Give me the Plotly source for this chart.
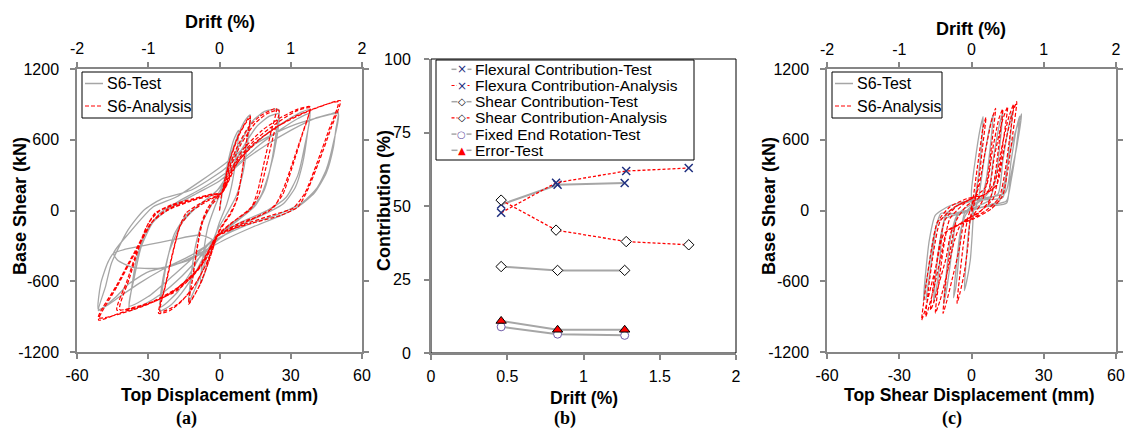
import plotly.graph_objects as go

W, H = 1126, 430

# ---------------- Panel (a): base shear vs top displacement ----------------
a_test_pts = [
    (0, 0), (2, 250), (4, 450), (6, 600), (8, 680), (7, 450), (5, 200), (3, 50), (0, -100), (-3, -300), (-6, -520),
    (-8, -620), (-7, -400), (-5, -150), (-2, 30), (1, 180),
    (4, 420), (8, 650), (11, 770), (13, 810), (12, 600), (10, 330), (7, 120), (3, -30), (-1, -170), (-5, -380),
    (-9, -600), (-12, -740), (-13, -780), (-12, -560), (-10, -290), (-7, -90), (-3, 60), (1, 200),
    (4, 380), (9, 580), (14, 760), (19, 840), (25, 855), (24, 680), (22, 420), (19, 180), (15, 40), (8, -80),
    (0, -200), (-5, -330), (-10, -520), (-16, -700), (-21, -810), (-25, -850), (-24, -660), (-22, -420),
    (-19, -200), (-14, -40), (-7, 70), (0, 190),
    (5, 360), (10, 540), (16, 720), (21, 800), (25, 820), (24, 600), (21, 330), (17, 110), (10, -40), (2, -160),
    (-6, -320), (-12, -520), (-18, -700), (-25, -820), (-24, -600), (-21, -340), (-16, -110), (-9, 40), (-1, 170),
    (6, 380), (13, 530), (20, 650), (28, 760), (34, 830), (38, 855), (37, 650), (35, 400), (32, 200), (27, 60),
    (18, -40), (8, -130), (0, -240), (-8, -390), (-16, -560), (-24, -700), (-32, -800), (-38, -850), (-37, -660),
    (-35, -420), (-31, -180), (-25, -20), (-17, 80), (-8, 180), (0, 280),
    (8, 400), (17, 560), (26, 690), (33, 780), (38, 820), (36, 560), (33, 300), (28, 110), (20, 0), (10, -90),
    (0, -200), (-10, -380), (-20, -560), (-30, -730), (-38, -810), (-36, -580), (-33, -310), (-28, -100),
    (-20, 30), (-10, 140), (0, 250),
    (10, 420), (20, 560), (30, 680), (40, 780), (47, 820), (50, 835), (49, 690), (48, 540), (45, 320), (40, 150),
    (33, 30), (25, -50), (14, -140), (2, -250), (-10, -380), (-20, -470), (-30, -520), (-38, -620), (-44, -740),
    (-51, -850), (-48, -646), (-45.5, -447), (-38.5, -165), (-32, 0), (-24.5, 97), (-11.8, 174), (1.6, 343),
    (10, 499), (20, 620), (32, 730), (42, 790), (50, 820),
    (48, 580), (45, 350), (41, 190), (35, 70), (25, -30), (12, -120), (0, -230), (-12, -380), (-24, -500),
    (-34, -620), (-42, -730), (-47, -800), (-51, -840), (-50, -620), (-47, -440), (-44.6, -362), (-40, -330),
    (-30, -290), (-20, -250), (-8, -208), (-3, -250), (-5, -330), (-14, -430), (-26, -490), (-37, -480),
    (-43, -420), (-44.6, -362), (-38, -190), (-28, 30), (-18, 117), (1.6, 386), (12, 560),
]
a_ana_pts = [
    (0, 0), (1, 150), (4, 400), (8, 630), (11, 740), (13, 790), (11.5, 600), (9.5, 330), (7.5, 100), (5, -20),
    (2, -110), (-1, -210), (-4, -400), (-8, -620), (-11, -730), (-13, -787), (-11.5, -590), (-9.5, -320),
    (-7.5, -100), (-5, 20), (-2, 100), (1, 150),
    (4, 410), (8, 640), (12, 780), (13, 800), (11.3, 580), (9.3, 300), (7, 80), (4, -40), (0, -160), (-1, -215),
    (-5, -460), (-9, -660), (-13, -795), (-11.3, -580), (-9.2, -300), (-7, -90), (-4, 30), (1, 150),
    (3, 300), (7, 520), (12, 700), (17, 800), (21, 845), (24, 867), (21.5, 650), (18.5, 380), (16, 160),
    (13.5, 30), (8, -60), (2, -160), (-1, -220), (-5, -430), (-10, -620), (-16, -770), (-21, -850),
    (-25.6, -872), (-23, -650), (-20, -380), (-17, -150), (-14, -20), (-8, 60), (-3, 110), (1, 150),
    (4, 340), (9, 560), (15, 740), (20, 820), (25, 850), (22.5, 620), (19.5, 360), (16.5, 130), (13, 10),
    (6, -90), (0, -190), (-1, -225), (-6, -470), (-12, -680), (-18, -800), (-25, -860), (-22.5, -620),
    (-19.5, -350), (-16.5, -130), (-12, -10), (-6, 70), (1, 150),
    (5, 350), (10, 520), (18, 680), (26, 790), (33, 860), (38.2, 880), (35, 660), (31, 420), (27, 190),
    (23, 30), (16, -50), (8, -110), (1, -190), (-1, -220), (-6, -420), (-14, -610), (-24, -740), (-34, -810),
    (-43.2, -844), (-39, -600), (-35, -360), (-31, -150), (-27, -20), (-20, 50), (-11, 100), (-3, 140), (1, 150),
    (6, 380), (14, 580), (24, 740), (32, 840), (38, 870), (34.5, 620), (30.5, 360), (26.5, 130), (21, 0),
    (13, -80), (4, -160), (-1, -220), (-8, -480), (-18, -680), (-30, -790), (-42, -840), (-38, -580),
    (-34, -320), (-30, -110), (-25, 0), (-15, 70), (-5, 130), (1, 150),
    (6, 360), (14, 560), (25, 720), (36, 830), (45, 900), (50.9, 931), (47, 700), (42, 420), (37, 170),
    (33, 30), (26, -40), (15, -100), (5, -160), (-1, -210), (-8, -470), (-18, -660), (-30, -790), (-42, -870),
    (-50.9, -929), (-43, -640), (-35, -340), (-27.7, -80), (-22, 10), (-14, 70), (-5, 125), (1, 150),
    (8, 420), (18, 620), (30, 780), (42, 880), (50, 920), (46, 680), (41, 400), (36, 150), (31, 20), (22, -40),
    (10, -120), (2, -190), (-1, -220), (-10, -520), (-22, -720), (-36, -840), (-51, -910), (-43.5, -640),
    (-36, -360), (-29, -110), (-22, 0), (-12, 80), (-3, 130), (1, 150), (5, 300),
]
a_test_disp = [p[0] for p in a_test_pts]
a_test_shear = [p[1] for p in a_test_pts]
a_ana_disp = [p[0] for p in a_ana_pts]
a_ana_shear = [p[1] for p in a_ana_pts]

# ---------------- Panel (c): base shear vs top shear displacement ----------------
c_test_pts = [
    (0, 0), (0, 174), (1.5, 420), (3.5, 683), (4.8, 796), (4, 520), (2.5, 240), (1, 60), (0.8, -20),
    (0.3, -200), (-0.5, -420), (-2, -600), (-3, -680), (-2.2, -420), (-1, -150), (0.5, -10), (2, 40),
    (3, 110), (5, 400), (7.5, 700), (9, 810), (7.8, 540), (6, 250), (3.5, 80), (-1, 20), (-3, -30),
    (-4.5, -200), (-5.5, -450), (-6.5, -650), (-7.5, -740), (-6.3, -470), (-4.8, -200), (-2.5, -40),
    (1, 40), (4, 90),
    (7, 150), (9, 430), (11.5, 720), (13, 830), (11.8, 560), (10, 270), (7.5, 90), (3, 40), (-3, -10),
    (-6, -50), (-7.5, -230), (-9, -480), (-10.5, -690), (-11.5, -790), (-10.3, -500), (-8.6, -220),
    (-6, -40), (-1, 40), (5, 90),
    (11, 140), (13, 420), (15.5, 720), (17, 840), (15.8, 560), (14, 270), (11.5, 80), (6, 40), (0, 0),
    (-7, -40), (-11, -70), (-12.5, -250), (-13.5, -500), (-14.8, -690), (-15.8, -780), (-14.6, -500),
    (-12.8, -220), (-10.5, -30), (-5, 50), (4, 90),
    (13, 110), (15, 400), (18, 650), (19.8, 760), (20.8, 820), (18.8, 540), (16, 260), (14.6, 63), (9, 40),
    (2, 20), (-6, -30), (-12.6, -23), (-15.5, -200), (-17.5, -450), (-19, -640), (-20, -770), (-19, -520),
    (-17.5, -250), (-15, -40), (-9, 40), (0, 90),
    (14, 150), (16.5, 430), (18.5, 680), (20, 800), (18.5, 520), (16.5, 260), (14.5, 80), (9, 50), (0, 10),
    (-10, -40), (-14, -100), (-16, -330), (-17.5, -560), (-19, -760),
]
c_ana_pts = [
    (0, 0), (1, 150), (3, 450), (4.8, 700), (6, 790), (4.6, 540), (3, 260), (1.2, 60), (-0.5, -60),
    (-1.5, -300), (-3, -530), (-4.8, -700), (-6, -787), (-4.8, -540), (-3.2, -260), (-1.5, -60), (0.5, 60),
    (3, 200), (5.5, 480), (8.3, 760), (10, 867), (8.6, 600), (6.8, 300), (4.5, 80), (1, -30), (-3, -100),
    (-5, -320), (-8, -580), (-10.3, -770), (-11.8, -872), (-10.6, -600), (-8.6, -310), (-6.2, -80), (-2, 40),
    (2, 90),
    (7, 170), (9.5, 460), (12.8, 760), (15, 880), (13.4, 620), (11.4, 320), (9, 100), (4, 0), (-2, -80),
    (-8, -160), (-10.5, -400), (-13.5, -620), (-15.5, -770), (-17, -844), (-15.5, -580), (-13.4, -300),
    (-11, -80), (-6, 40), (0, 100), (5, 130),
    (10.5, 220), (13.5, 520), (16.6, 800), (18.8, 923), (17.2, 660), (15.2, 360), (12.8, 120), (8, 10),
    (1, -70), (-5, -120), (-11.5, -200), (-14.5, -450), (-17.5, -700), (-19.5, -860), (-20.7, -929),
    (-19, -650), (-16.8, -350), (-14.2, -100), (-9, 30), (-2, 100), (6, 140),
    (10, 260), (12.8, 560), (15.6, 800), (17.5, 900), (16, 640), (14, 340), (11.5, 110), (6, 0), (-1, -80),
    (-10, -170), (-13, -420), (-16, -690), (-18, -840), (-19, -900), (-17.6, -620), (-15.6, -330), (-13, -90),
    (-7, 30), (0, 100),
    (6, 200), (8.6, 500), (11.4, 780), (13, 860), (11.6, 600), (9.8, 300), (7.6, 90), (3, -20), (-4, -100),
    (-7, -250), (-10, -520), (-13, -760), (-15, -870), (-13.5, -600), (-11.5, -300), (-9, -70), (-3, 60),
    (1, 120),
]
c_test_disp = [p[0] for p in c_test_pts]
c_test_shear = [p[1] for p in c_test_pts]
c_ana_disp = [p[0] for p in c_ana_pts]
c_ana_shear = [p[1] for p in c_ana_pts]

# ---------------- Panel (b): contributions vs drift ----------------
b_drift_test = [0.46, 0.83, 1.27]
b_drift_ana = [0.46, 0.82, 1.28, 1.69]
flex_test = [50.5, 57.2, 57.8]
flex_ana = [47.7, 57.9, 61.9, 62.9]
shear_test = [29.4, 28.1, 28.1]
shear_ana = [52.0, 41.8, 37.9, 36.8]
fixed_end_test = [8.9, 6.4, 6.0]
error_test = [10.9, 7.9, 7.9]
b_series_names = ["Flexural Contribution-Test", "Flexura Contribution-Analysis", "Shear Contribution-Test",
                  "Shear Contribution-Analysis", "Fixed End Rotation-Test", "Error-Test"]
hyst_series_names = ["S6-Test", "S6-Analysis"]

# ticks
disp_ticks = [-60, -30, 0, 30, 60]
disp_labels = ["-60", "-30", "0", "30", "60"]
shear_ticks = [-1200, -600, 0, 600, 1200]
shear_labels = ["-1200", "-600", "0", "600", "1200"]
drift_ticks = [-2, -1, 0, 1, 2]
drift_labels = ["-2", "-1", "0", "1", "2"]
b_x_ticks = [0, 0.5, 1, 1.5, 2]
b_x_labels = ["0", "0.5", "1", "1.5", "2"]
b_y_ticks = [0, 25, 50, 75, 100]

GRAY = "#A6A6A6"
AXC = "#868686"
RED = "#FF0000"
NAVY = "#1F2F7F"
PURPLE = "#6F5BA8"
FONT = "Liberation Sans"
TEST_DASH = "solid"
ANA_DASH = "4px,2px"

fig = go.Figure()

def hyst(xv, yv, name, color, dash, width, xa, ya):
    return go.Scatter(x=xv, y=yv, mode="lines", name=name, xaxis=xa, yaxis=ya, showlegend=False,
                      line=dict(color=color, width=width, dash=dash, shape="spline", smoothing=0.6),
                      hoverinfo="skip")

fig.add_trace(hyst(a_test_disp, a_test_shear, hyst_series_names[0], GRAY, TEST_DASH, 1.3, "x", "y"))
fig.add_trace(hyst(a_ana_disp, a_ana_shear, hyst_series_names[1], RED, ANA_DASH, 1.2, "x", "y"))
fig.add_trace(hyst(c_test_disp, c_test_shear, hyst_series_names[0], GRAY, TEST_DASH, 1.3, "x3", "y3"))
fig.add_trace(hyst(c_ana_disp, c_ana_shear, hyst_series_names[1], RED, ANA_DASH, 1.2, "x3", "y3"))

# empty helper traces so that the secondary (top) drift axes are drawn
for xa, ya in (("x4", "y"), ("x5", "y3")):
    fig.add_trace(go.Scatter(x=drift_ticks, y=[None] * len(drift_ticks), xaxis=xa, yaxis=ya,
                             mode="lines", showlegend=False, hoverinfo="skip"))

def contrib(xv, yv, name, lcolor, dash, lwidth, marker):
    return go.Scatter(x=xv, y=yv, mode="lines+markers", name=name, xaxis="x2", yaxis="y2",
                      showlegend=False, line=dict(color=lcolor, width=lwidth, dash=dash), marker=marker,
                      hoverinfo="skip")

fig.add_trace(contrib(b_drift_test, flex_test, b_series_names[0], GRAY, "solid", 2,
                      dict(symbol="x-thin-open", size=8, color=NAVY, line=dict(color=NAVY, width=1.5))))
fig.add_trace(contrib(b_drift_ana, flex_ana, b_series_names[1], RED, "3px,2px", 1.3,
                      dict(symbol="x-thin-open", size=8, color=NAVY, line=dict(color=NAVY, width=1.5))))
fig.add_trace(contrib(b_drift_test, shear_test, b_series_names[2], GRAY, "solid", 2,
                      dict(symbol="diamond", size=8, color="white", line=dict(color="black", width=1))))
fig.add_trace(contrib(b_drift_ana, shear_ana, b_series_names[3], RED, "3px,2px", 1.3,
                      dict(symbol="diamond", size=8, color="white", line=dict(color="black", width=1))))
fig.add_trace(contrib(b_drift_test, fixed_end_test, b_series_names[4], GRAY, "solid", 2,
                      dict(symbol="circle", size=8, color="white", line=dict(color=PURPLE, width=1))))
fig.add_trace(contrib(b_drift_test, error_test, b_series_names[5], GRAY, "solid", 2,
                      dict(symbol="triangle-up", size=9, color="#FF0000", line=dict(color="black", width=1))))

tickfont = dict(family=FONT, size=16, color="black")

def base_axis(**kw):
    d = dict(showline=True, linecolor=AXC, linewidth=1.5, ticks="outside", tickcolor=AXC, ticklen=5,
             tickwidth=1.5, showgrid=False, zeroline=False, tickfont=tickfont, ticklabelstandoff=3,
             fixedrange=True, automargin=False)
    d.update(kw)
    return d

ya_dom = [1 - 352 / H, 1 - 69 / H]
fig.update_layout(
    width=W, height=H, autosize=False, margin=dict(l=0, r=0, t=0, b=0, pad=0, autoexpand=False),
    paper_bgcolor="white", plot_bgcolor="white", showlegend=False,
    xaxis=base_axis(domain=[77 / W, 362 / W], range=[-60, 60], tickvals=disp_ticks, ticktext=disp_labels,
                    anchor="y"),
    yaxis=base_axis(domain=ya_dom, range=[-1200, 1200], tickvals=shear_ticks, ticktext=shear_labels,
                    anchor="x", mirror="ticks", ticklabelstandoff=8),
    xaxis4=base_axis(overlaying="x", side="top", anchor="y", range=[-2, 2], tickvals=drift_ticks,
                     ticktext=drift_labels, ticklabelstandoff=2),
    xaxis2=base_axis(domain=[431 / W, 736 / W], range=[0, 2], tickvals=b_x_ticks, ticktext=b_x_labels,
                     anchor="y2", linewidth=2),
    yaxis2=base_axis(domain=[1 - 353 / H, 1 - 59 / H], range=[0, 100], tickvals=b_y_ticks, anchor="x2",
                     linewidth=2, ticklabelstandoff=10),
    xaxis3=base_axis(domain=[827 / W, 1116 / W], range=[-60, 60], tickvals=disp_ticks, ticktext=disp_labels,
                     anchor="y3"),
    yaxis3=base_axis(domain=ya_dom, range=[-1200, 1200], tickvals=shear_ticks, ticktext=shear_labels,
                     anchor="x3", mirror="ticks", ticklabelstandoff=8),
    xaxis5=base_axis(overlaying="x3", side="top", anchor="y3", range=[-2, 2], tickvals=drift_ticks,
                     ticktext=drift_labels, ticklabelstandoff=1),
)

# black frame (top/right) for panel (b)
fig.add_shape(type="rect", xref="x2 domain", yref="y2 domain", x0=0, x1=1, y0=0, y1=1,
              line=dict(color="black", width=1), layer="below")

def ann(text, x, y, size=18, bold=True, angle=0, family=FONT, xanchor="center", yanchor="middle",
        color="black"):
    t = f"<b>{text}</b>" if bold else text
    fig.add_annotation(text=t, x=x / W, y=1 - y / H, xref="paper", yref="paper", showarrow=False,
                       textangle=angle, font=dict(family=family, size=size, color=color),
                       xanchor=xanchor, yanchor=yanchor, borderpad=0)

ann("Drift (%)", 219.5, 22)
ann("Top Displacement (mm)", 219.5, 395, size=17.5)
ann("Base Shear (kN)", 20, 206, angle=-90)
ann("(a)", 186, 430, size=18, family="Liberation Serif", yanchor="bottom")

ann("Contribution (%)", 384, 201, angle=-90)
ann("Drift (%)", 583.5, 398, size=17.5)
ann("(b)", 564.5, 430, size=18, family="Liberation Serif", yanchor="bottom")

ann("Drift (%)", 970.5, 29)
ann("Top Shear Displacement (mm)", 969.5, 395, size=17.5)
ann("Base Shear (kN)", 769, 206, angle=-90)
ann("(c)", 952, 430, size=18, family="Liberation Serif", yanchor="bottom")

def legend_box(x0, x1, y0, y1):
    fig.add_shape(type="rect", xref="paper", yref="paper", x0=x0 / W, x1=x1 / W, y0=1 - y1 / H,
                  y1=1 - y0 / H, line=dict(color="black", width=1), fillcolor="white", layer="above")

def legend_line(x0, x1, y, color, dash, width):
    fig.add_shape(type="line", xref="paper", yref="paper", x0=x0 / W, x1=x1 / W, y0=1 - y / H, y1=1 - y / H,
                  line=dict(color=color, dash=dash, width=width), layer="above")

# legends of panels (a) and (c)
for bx in (82, 832):
    legend_box(bx, bx + 110, 72, 118)
    legend_line(bx + 3, bx + 21, 83.5, GRAY, TEST_DASH, 1.5)
    legend_line(bx + 3, bx + 21, 106, RED, ANA_DASH, 1.2)
    ann(hyst_series_names[0], bx + 24, 83.5, size=16, bold=False, xanchor="left")
    ann(hyst_series_names[1], bx + 24, 106, size=16, bold=False, xanchor="left")

# legend of panel (b)
legend_box(436, 694, 60, 160)
b_leg_lines = [(GRAY, "solid", 1.5), (RED, "3px,2px", 1.2), (GRAY, "solid", 1.5), (RED, "3px,2px", 1.2),
               (GRAY, "solid", 1.5), (GRAY, "solid", 1.5)]
b_leg_syms = [("×", NAVY, 12), ("×", NAVY, 12), ("◇", "black", 10), ("◇", "black", 10), ("○", PURPLE, 10),
              ("▲", RED, 10)]
for i, name in enumerate(b_series_names):
    yrow = 69.3 + i * 16.2
    lc, ld, lw = b_leg_lines[i]
    legend_line(451.5, 471.5, yrow, lc, ld, lw)
    sym, sc, ss = b_leg_syms[i]
    fig.add_annotation(text=sym, x=461.5 / W, y=1 - yrow / H, xref="paper", yref="paper", showarrow=False,
                       xanchor="center", yanchor="middle", bgcolor="white", borderpad=0,
                       font=dict(family="DejaVu Sans", size=ss, color=sc))
    ann(name, 474, yrow, size=15.5, bold=False, xanchor="left")

fig.write_html("out.html")
